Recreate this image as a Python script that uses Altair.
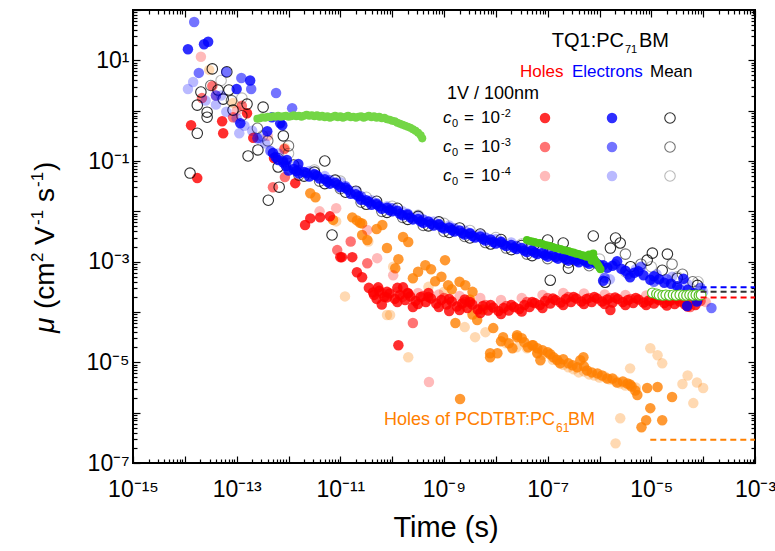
import altair as alt
import pandas as pd

FONT = "Liberation Sans"
W, H = 622, 453          # plot area
PAD_L, PAD_T = 133, 10   # plot origin inside the page

# ---------------------------------------------------------------------------
# Data: (log10 time [s], log10 mobility [cm^2 V^-1 s^-1])
# ---------------------------------------------------------------------------
ELEC_HI = [  # electrons, c0 = 1e-2
    (-13.94, 1.22), (-13.63, 1.32), (-13.55, 1.37), (-13.00, 0.43), (-12.74, 0.60),
    (-12.93, -0.25), (-12.41, -0.41), (-12.32, -0.13), (-12.16, -0.25), (-12.12, -0.29),
    (-12.03, -0.98), (-11.81, -1.06),
    (-12.30, -0.84), (-12.20, -0.98), (-12.10, -1.03), (-12.00, -1.19), (-11.90, -1.16),
    (-11.80, -1.25), (-11.70, -1.22), (-11.60, -1.31), (-11.50, -1.27), (-11.40, -1.35),
    (-11.30, -1.36), (-11.20, -1.45), (-11.10, -1.43), (-11.00, -1.52), (-10.90, -1.53),
    (-10.80, -1.65), (-10.70, -1.66), (-10.60, -1.77), (-10.50, -1.78), (-10.40, -1.87),
    (-10.30, -1.86), (-10.20, -1.95), (-10.10, -1.93), (-10.00, -2.00), (-9.90, -1.99),
    (-9.80, -2.08), (-9.70, -2.07), (-9.60, -2.16), (-9.50, -2.15), (-9.40, -2.23),
    (-9.30, -2.20), (-9.20, -2.28), (-9.10, -2.26), (-9.00, -2.34), (-8.90, -2.32),
    (-8.80, -2.40), (-8.70, -2.38), (-8.60, -2.46), (-8.50, -2.44), (-8.40, -2.52),
    (-8.30, -2.50), (-8.20, -2.58), (-8.10, -2.56), (-8.00, -2.64), (-7.90, -2.61),
    (-7.80, -2.69), (-7.70, -2.67), (-7.60, -2.75), (-7.50, -2.73), (-7.40, -2.81),
    (-7.30, -2.78), (-7.20, -2.85), (-7.10, -2.83), (-7.00, -2.90), (-6.90, -2.87),
    (-6.80, -2.94), (-6.70, -2.91), (-6.60, -2.98), (-6.50, -2.95), (-6.40, -3.01),
    (-6.30, -2.97), (-6.20, -3.04), (-6.10, -3.00), (-6.00, -3.07),
    (-12.25, -0.92), (-12.05, -1.10), (-11.85, -1.20), (-11.65, -1.24), (-11.45, -1.29),
    (-11.25, -1.41), (-11.05, -1.47), (-10.85, -1.57), (-10.65, -1.70), (-10.45, -1.81),
    (-10.25, -1.90), (-10.05, -1.98), (-9.85, -2.05), (-9.65, -2.12), (-9.45, -2.20),
    (-9.25, -2.25), (-9.05, -2.31), (-8.85, -2.37), (-8.65, -2.43), (-8.45, -2.49),
    (-8.25, -2.55), (-8.05, -2.61), (-7.85, -2.66), (-7.65, -2.72), (-7.45, -2.78),
    (-7.25, -2.82), (-7.05, -2.87), (-6.85, -2.91), (-6.65, -2.95), (-6.45, -2.98),
    (-6.25, -3.01), (-6.05, -3.04),
    (-5.93, -3.07), (-5.85, -3.12), (-5.75, -3.08), (-5.66, -2.99), (-5.58, -3.14),
    (-5.50, -3.18), (-5.41, -3.31), (-5.33, -3.22), (-5.25, -3.19), (-5.15, -3.27),
    (-5.02, -3.36), (-4.95, -3.29), (-4.85, -3.35), (-4.75, -3.42), (-4.62, -3.44),
    (-4.50, -3.49), (-4.38, -3.34), (-4.30, -3.56), (-4.18, -3.62), (-5.93, -3.38),
    (-4.31, -3.88), (-4.12, -3.79),
]
ELEC_MID = [  # electrons, c0 = 1e-3
    (-13.82, 1.76), (-13.73, 0.75), (-13.20, 0.77), (-12.91, 0.65), (-12.72, 0.43),
    (-12.24, 0.35), (-11.93, 0.05), (-13.40, 0.30),
    (-12.60, -0.55), (-12.35, -0.80), (-12.10, -1.00), (-11.80, -1.18), (-11.50, -1.26),
    (-11.20, -1.38), (-10.90, -1.50), (-10.60, -1.70), (-10.30, -1.84), (-10.00, -1.94),
    (-9.70, -2.05), (-9.40, -2.16), (-9.10, -2.25), (-8.80, -2.34), (-8.50, -2.43),
    (-8.20, -2.52), (-7.90, -2.60), (-7.60, -2.69), (-7.30, -2.77), (-7.00, -2.84),
    (-6.70, -2.90), (-6.40, -2.94), (-6.10, -3.00),
    (-5.90, -3.32), (-5.70, -3.05), (-5.45, -3.25), (-5.20, -3.10), (-4.95, -3.40),
    (-4.70, -3.35), (-4.45, -3.55), (-4.20, -3.68), (-3.84, -3.92), (-4.05, -3.52),
]
ELEC_LO = [  # electrons, c0 = 1e-4
    (-13.94, 0.43), (-13.84, 0.57), (-13.60, 0.20), (-13.40, 0.12), (-13.20, -0.02),
    (-13.00, -0.15), (-12.85, -0.30), (-12.70, -0.40), (-12.55, -0.55), (-12.45, -0.65),
    (-13.30, 0.30), (-12.95, -0.45),
    (-12.20, -0.85), (-11.90, -1.10), (-11.60, -1.20), (-11.30, -1.30), (-11.00, -1.42),
    (-10.70, -1.60), (-10.40, -1.78), (-10.10, -1.90), (-9.80, -2.00), (-9.50, -2.10),
    (-9.20, -2.20), (-8.90, -2.28), (-8.60, -2.38), (-8.30, -2.46), (-8.00, -2.55),
    (-7.70, -2.62), (-7.40, -2.72), (-7.10, -2.78), (-6.80, -2.86), (-6.50, -2.90),
    (-5.80, -3.35), (-5.30, -3.15), (-4.90, -3.25), (-4.60, -3.30), (-4.30, -3.45),
    (-4.00, -3.60),
]

MEAN_HI = [  # mean of holes and electrons, c0 = 1e-2
    (-13.76, 0.11), (-13.57, -0.03), (-13.57, -0.13), (-13.76, -0.45), (-13.69, 0.37),
    (-13.47, 0.83), (-13.36, 0.41), (-13.26, 0.23), (-12.80, 0.13), (-12.49, 0.07),
    (-12.78, -0.90), (-12.59, -0.78), (-12.20, -1.12), (-13.90, -1.24), (-12.39, -1.78),
    (-11.16, -2.47), (-12.18, -1.52), (-11.30, -1.00), (-13.15, 0.41), (-13.07, 0.01),
    (-13.19, 0.77), (-12.10, -0.50),
    (-11.90, -1.08), (-11.70, -1.30), (-11.50, -1.22), (-11.30, -1.45), (-11.10, -1.38),
    (-10.90, -1.62), (-10.70, -1.60), (-10.50, -1.86), (-10.30, -1.80), (-10.10, -2.02),
    (-9.90, -1.94), (-9.70, -2.16), (-9.50, -2.10), (-9.30, -2.29), (-9.10, -2.21),
    (-8.90, -2.42), (-8.70, -2.33), (-8.50, -2.53), (-8.30, -2.45), (-8.10, -2.65),
    (-7.90, -2.56), (-7.70, -2.76), (-7.50, -2.68), (-7.30, -2.88), (-7.10, -2.78),
    (-6.95, -3.37), (-6.60, -3.13), (-6.12, -2.49), (-5.69, -2.53), (-5.60, -2.63),
    (-5.79, -2.73), (-6.70, -2.63), (-7.00, -2.57), (-4.98, -2.83), (-4.69, -2.85),
    (-4.79, -3.17), (-5.08, -2.97), (-4.11, -3.47), (-4.50, -3.33), (-5.89, -3.41),
    (-6.30, -2.95), (-5.40, -3.10),
]
MEAN_MID = [  # c0 = 1e-3
    (-13.50, 0.50), (-13.10, 0.20), (-12.90, -0.10), (-12.60, -0.35), (-12.40, -0.60),
    (-12.00, -0.70),
    (-12.20, -0.95), (-11.80, -1.28), (-11.40, -1.40), (-11.00, -1.55), (-10.60, -1.82),
    (-10.20, -2.00), (-9.80, -2.12), (-9.40, -2.28), (-9.00, -2.40), (-8.60, -2.50),
    (-8.20, -2.62), (-7.80, -2.73), (-7.40, -2.85), (-7.00, -2.94), (-6.60, -3.02),
    (-6.20, -3.08),
    (-5.50, -2.85), (-5.20, -3.05), (-4.40, -3.25), (-4.20, -3.40), (-4.60, -3.05),
]
MEAN_LO = [  # c0 = 1e-4
    (-13.30, 0.60), (-12.90, 0.25), (-12.50, -0.50), (-12.00, -0.85), (-11.50, -1.18),
    (-11.00, -1.40), (-10.50, -1.72), (-10.00, -1.90), (-9.50, -2.08), (-9.00, -2.24),
    (-8.50, -2.38), (-8.00, -2.52), (-7.50, -2.65), (-7.00, -2.78), (-6.50, -2.88),
    (-6.00, -2.95), (-5.50, -3.20), (-5.00, -3.10), (-4.50, -3.30), (-4.10, -3.40),
]

HOLE_HI = [  # holes, c0 = 1e-2
    (-13.88, -0.29), (-13.76, -1.34), (-13.26, -0.45), (-12.68, -0.54), (-12.28, -0.94),
    (-11.87, -1.44), (-11.68, -2.27), (-11.58, -2.14), (-11.39, -2.12), (-11.20, -2.10),
    (-10.97, -2.91), (-10.77, -2.91), (-10.68, -3.21), (-10.58, -3.31), (-10.37, -3.61),
    (-10.27, -3.51), (-10.10, -3.71), (-9.79, -3.51), (-9.69, -3.63), (-11.00, -2.91),
    (-9.88, -4.66), (-13.28, -0.21), (-12.80, -0.05),
    (-10.35, -3.66), (-10.25, -3.58), (-10.15, -3.70), (-10.05, -3.63), (-9.95, -3.74),
    (-9.85, -3.66), (-9.75, -3.76), (-9.65, -3.69), (-9.55, -3.78), (-9.45, -3.70),
    (-9.35, -3.80), (-9.25, -3.73), (-9.15, -3.83), (-9.05, -3.76), (-8.95, -3.85),
    (-8.85, -3.79), (-8.75, -3.89), (-8.65, -3.83), (-8.55, -3.92), (-8.45, -3.85),
    (-8.35, -3.95), (-8.25, -3.88), (-8.15, -3.97), (-8.05, -3.91), (-7.95, -3.98),
    (-7.85, -3.92), (-7.75, -3.97), (-7.65, -3.90), (-7.55, -3.94), (-7.45, -3.86),
    (-7.35, -3.90), (-7.25, -3.82), (-7.15, -3.86), (-7.05, -3.78), (-6.95, -3.83),
    (-6.85, -3.76), (-6.75, -3.81), (-6.65, -3.74), (-6.55, -3.80), (-6.45, -3.73),
    (-6.35, -3.79), (-6.25, -3.74), (-6.15, -3.80), (-6.05, -3.73), (-5.95, -3.79),
    (-5.85, -3.75), (-5.79, -3.96), (-5.75, -3.81), (-5.65, -3.74), (-5.55, -3.80),
    (-5.45, -3.76), (-5.35, -3.82), (-5.25, -3.75), (-5.15, -3.81), (-5.05, -3.77),
    (-4.95, -3.83), (-4.85, -3.76), (-4.75, -3.82), (-4.65, -3.78), (-4.55, -3.84),
    (-4.45, -3.79), (-4.35, -3.85), (-4.25, -3.80), (-4.15, -3.86),
    (-10.45, -3.52), (-10.20, -3.85), (-9.90, -3.52), (-9.60, -3.90), (-9.30, -3.62),
    (-8.90, -3.98), (-8.60, -3.75),
    (-10.30, -3.74), (-10.10, -3.60), (-9.90, -3.80), (-9.70, -3.62), (-9.50, -3.84),
    (-9.30, -3.70), (-9.10, -3.90), (-8.90, -3.74), (-8.70, -3.96), (-8.50, -3.80),
    (-8.30, -4.02), (-8.10, -3.86), (-7.90, -4.04), (-7.70, -3.86), (-7.50, -3.99),
    (-7.30, -3.80), (-7.10, -3.92), (-6.90, -3.73), (-6.70, -3.86), (-6.50, -3.70),
    (-6.30, -3.84), (-6.10, -3.70), (-5.90, -3.84), (-5.70, -3.71), (-5.50, -3.86),
    (-5.30, -3.72), (-5.10, -3.86), (-4.90, -3.73), (-4.70, -3.87), (-4.50, -3.74),
    (-4.30, -3.89), (-4.10, -3.76),
]
HOLE_MID = [  # c0 = 1e-3
    (-13.67, 0.25), (-13.47, 0.49), (-13.07, -0.13), (-12.08, -0.76), (-12.30, -1.52),
    (-12.07, -1.32), (-11.06, -2.77), (-10.48, -3.03), (-9.60, -4.22), (-12.90, 0.10),
    (-10.80, -2.60),
    (-10.20, -3.62), (-9.80, -3.70), (-9.40, -3.68), (-9.00, -3.72), (-8.60, -3.80),
    (-8.20, -3.86), (-7.80, -3.88), (-7.40, -3.80), (-7.00, -3.72), (-6.60, -3.70),
    (-6.20, -3.72), (-5.80, -3.72), (-5.40, -3.74), (-5.00, -3.75), (-4.60, -3.76),
    (-4.25, -3.90), (-4.05, -3.78),
]
HOLE_LO = [  # c0 = 1e-4
    (-13.69, 1.07), (-13.40, 0.30), (-13.00, 0.00), (-12.40, -0.50), (-11.40, -2.00),
    (-11.08, -1.94), (-10.48, -2.37), (-10.29, -2.93), (-9.98, -3.27), (-9.29, -5.39),
    (-10.30, -3.55), (-9.90, -3.60), (-9.50, -3.62), (-9.10, -3.65), (-8.70, -3.68),
    (-8.30, -3.72), (-7.90, -3.76), (-7.50, -3.72), (-7.10, -3.66), (-6.70, -3.62),
    (-6.30, -3.63), (-5.90, -3.65), (-5.50, -3.66), (-5.10, -3.67), (-4.70, -3.68),
    (-4.30, -3.75), (-3.95, -3.80),
]

PCDTBT_HI = [  # holes of PCDTBT:PC61BM, dark
    (-11.58, -1.64), (-11.48, -1.72), (-10.77, -2.12), (-10.68, -2.18), (-10.58, -2.24),
    (-10.19, -2.27), (-10.58, -2.47), (-10.48, -2.57), (-10.10, -2.73), (-9.79, -2.51),
    (-9.69, -2.61), (-9.88, -2.95), (-9.60, -3.33), (-11.14, -2.17), (-10.62, -2.23),
    (-9.36, -3.07), (-8.98, -2.97), (-9.17, -3.39), (-8.59, -3.47), (-8.92, -3.47),
    (-9.94, -3.13), (-8.78, -4.22), (-8.36, -4.16), (-8.05, -4.32), (-7.86, -4.50),
    (-7.59, -4.50), (-7.28, -4.66), (-7.20, -4.82), (-8.11, -4.82), (-8.11, -4.90),
    (-7.97, -4.82), (-7.59, -4.46), (-7.50, -4.52), (-7.30, -4.66), (-7.20, -4.72),
    (-7.00, -4.80), (-6.89, -4.90), (-6.76, -5.02), (-6.60, -5.02), (-6.37, -4.96),
    (-6.43, -5.10), (-6.24, -5.16), (-6.04, -5.22), (-5.85, -5.32), (-5.66, -5.40),
    (-5.46, -5.42), (-5.31, -5.56), (-6.31, -4.90), (-7.68, -4.72), (-7.14, -4.96),
    (-5.41, -5.44), (-5.27, -5.65), (-5.08, -5.51), (-4.88, -5.49), (-5.02, -5.91),
    (-5.10, -6.15), (-5.19, -6.29), (-4.79, -6.15), (-4.60, -5.69), (-8.69, -5.73),
    (-7.90, -4.58), (-7.75, -4.62), (-7.45, -4.60), (-7.38, -4.70), (-7.10, -4.76),
    (-6.95, -4.84), (-6.82, -4.95), (-6.70, -4.94), (-6.52, -5.06), (-6.30, -5.08),
    (-6.15, -5.20), (-5.95, -5.26), (-5.75, -5.32), (-5.55, -5.38), (-5.38, -5.48),
    (-10.30, -2.35), (-9.50, -3.20), (-9.25, -3.15), (-9.05, -3.30), (-8.85, -3.55),
    (-8.70, -3.40), (-8.45, -3.60), (-8.50, -3.75), (-8.25, -3.95), (-8.45, -4.05),
]
PCDTBT_LO = [  # holes of PCDTBT:PC61BM, light
    (-13.53, 0.81), (-13.07, 0.15), (-12.07, -0.74), (-10.91, -3.69), (-11.08, -2.20),
    (-10.46, -2.60), (-9.98, -3.10), (-10.10, -4.06), (-9.69, -4.90), (-8.40, -4.50),
    (-10.04, -4.06), (-8.63, -3.90), (-8.30, -3.95),
    (-7.80, -4.62), (-7.40, -4.72), (-7.10, -4.85), (-6.80, -4.98), (-6.60, -5.10),
    (-6.50, -5.14), (-6.30, -5.18), (-6.10, -5.26), (-5.90, -5.28), (-5.70, -5.36),
    (-5.50, -5.46), (-5.30, -5.50),
    (-7.60, -4.70), (-7.20, -4.80), (-6.90, -4.95), (-6.70, -5.05), (-6.40, -5.20),
    (-6.20, -5.24), (-6.00, -5.30), (-5.80, -5.34), (-5.60, -5.42), (-8.20, -4.40),
    (-8.60, -4.30), (-9.00, -3.60), (-9.30, -3.50),
    (-5.02, -4.72), (-4.88, -4.86), (-4.79, -5.02), (-5.41, -5.12), (-4.30, -5.26),
    (-4.40, -5.43), (-4.12, -5.40), (-4.00, -5.51), (-4.19, -5.81), (-5.60, -6.11),
    (-5.69, -6.61),
]

GREEN_EARLY = [
    (-12.60, -0.16), (-12.55, -0.15), (-12.50, -0.13), (-12.45, -0.14), (-12.40, -0.12),
    (-12.35, -0.13), (-12.30, -0.11), (-12.25, -0.12), (-12.20, -0.10), (-12.15, -0.12),
    (-12.10, -0.11), (-12.05, -0.10), (-12.00, -0.12), (-11.95, -0.11), (-11.90, -0.09),
    (-11.85, -0.11), (-11.80, -0.10), (-11.75, -0.12), (-11.70, -0.10), (-11.65, -0.08),
    (-11.60, -0.10), (-11.55, -0.09), (-11.50, -0.11), (-11.45, -0.09), (-11.40, -0.12),
    (-11.35, -0.10), (-11.30, -0.13), (-11.25, -0.11), (-11.20, -0.14), (-11.15, -0.12),
    (-11.10, -0.10), (-11.05, -0.13), (-11.00, -0.11), (-10.95, -0.14), (-10.90, -0.12),
    (-10.85, -0.10), (-10.80, -0.13), (-10.75, -0.12), (-10.70, -0.14), (-10.65, -0.12),
    (-10.60, -0.11), (-10.55, -0.14), (-10.50, -0.12), (-10.45, -0.10), (-10.40, -0.13),
    (-10.35, -0.11), (-10.30, -0.14), (-10.25, -0.12), (-10.20, -0.15), (-10.15, -0.14),
    (-10.10, -0.17), (-10.05, -0.18), (-10.00, -0.20), (-9.95, -0.21), (-9.90, -0.24),
    (-9.85, -0.26), (-9.80, -0.28), (-9.75, -0.30), (-9.70, -0.32), (-9.65, -0.34),
    (-9.60, -0.37), (-9.55, -0.40), (-9.50, -0.44), (-9.45, -0.49), (-9.42, -0.55),
]
GREEN_LATE = [
    (-7.40, -2.57), (-7.35, -2.59), (-7.30, -2.60), (-7.25, -2.61), (-7.20, -2.63),
    (-7.15, -2.63), (-7.10, -2.65), (-7.05, -2.67), (-7.00, -2.68), (-6.95, -2.69),
    (-6.90, -2.71), (-6.85, -2.73), (-6.80, -2.74), (-6.75, -2.75), (-6.70, -2.77),
    (-6.65, -2.78), (-6.60, -2.79), (-6.55, -2.81), (-6.50, -2.82), (-6.45, -2.84),
    (-6.40, -2.85), (-6.35, -2.87), (-6.30, -2.88), (-6.25, -2.90), (-6.20, -2.86),
    (-6.17, -2.93), (-6.15, -2.98), (-6.12, -2.84), (-6.10, -2.95), (-6.07, -3.00),
    (-6.05, -3.03), (-6.02, -3.08), (-6.00, -3.12), (-5.98, -3.15),
]
GREEN_RINGS = [
    (-4.98, -3.62), (-4.90, -3.64), (-4.85, -3.66), (-4.78, -3.67), (-4.72, -3.66),
    (-4.65, -3.67), (-4.58, -3.66), (-4.52, -3.67), (-4.45, -3.66), (-4.38, -3.67),
    (-4.32, -3.67), (-4.26, -3.66), (-4.20, -3.67), (-4.14, -3.66), (-4.08, -3.67),
    (-4.04, -3.66),
]

# long-time plateaus: (log10 start time, log10 mobility, colour)
PLATEAUS = [
    (-4.05, -3.51, "#0000ff"),
    (-4.05, -3.60, "#333333"),
    (-4.05, -3.71, "#ff0000"),
    (-5.02, -6.54, "#ff8000"),
]

X_TICK_VALUES = [1e-15, 1e-13, 1e-11, 1e-9, 1e-7, 1e-5, 1e-3]
X_TICK_TEXT = ["10⁻¹⁵", "10⁻¹³", "10⁻¹¹", "10⁻⁹", "10⁻⁷", "10⁻⁵", "10⁻³"]
Y_TICK_VALUES = [1e-7, 1e-5, 1e-3, 1e-1, 1e1]
Y_TICK_TEXT = ["10⁻⁷", "10⁻⁵", "10⁻³", "10⁻¹", "10¹"]

RED, BLUE, ORANGE = "#ff0000", "#0000ff", "#ff8000"
A_HI, A_MID, A_LO = 0.82, 0.55, 0.27
DOT = 110

# ---------------------------------------------------------------------------
XS = alt.Scale(type="log", domain=[1e-15, 1e-3], nice=False)
YS = alt.Scale(type="log", domain=[1e-7, 1e2], nice=False)


def table(pairs):
    return pd.DataFrame({"t": [10.0 ** a for a, _ in pairs],
                         "mu": [10.0 ** b for _, b in pairs]})


def xy():
    return dict(x=alt.X("t:Q", scale=XS, axis=None),
                y=alt.Y("mu:Q", scale=YS, axis=None))


def dots(pairs, color, alpha, size=DOT):
    return alt.Chart(table(pairs)).mark_circle(
        size=size, color=color, opacity=alpha).encode(**xy())


def rings(pairs, alpha, size=DOT):
    return alt.Chart(table(pairs)).mark_point(
        shape="circle", size=size, color="black", opacity=alpha,
        strokeWidth=1.1, filled=False).encode(**xy())


plateau_df = pd.DataFrame({
    "t0": [10.0 ** p[0] for p in PLATEAUS],
    "t1": [1e-3] * len(PLATEAUS),
    "mu": [10.0 ** p[1] for p in PLATEAUS],
    "c": [p[2] for p in PLATEAUS],
})
plateaus = alt.Chart(plateau_df).mark_rule(strokeDash=[6, 4], strokeWidth=2).encode(
    x=alt.X("t0:Q", scale=XS, axis=None), x2="t1:Q",
    y=alt.Y("mu:Q", scale=YS, axis=None),
    color=alt.Color("c:N", scale=None))

green_rings = alt.Chart(table(GREEN_RINGS)).mark_point(
    shape="circle", size=95, filled=True, fill="white", stroke="#58c024",
    strokeWidth=1.2, opacity=1).encode(**xy())

# ---------------------------------------------------------------------------
# text annotations (page coordinates)
one = pd.DataFrame({"k": [0]})


def note(text, px, py, size, color="black", align="left", style="normal",
         angle=0, baseline="alphabetic"):
    return alt.Chart(one).mark_text(
        align=align, baseline=baseline, font=FONT, fontSize=size, color=color,
        fontStyle=style, angle=angle).encode(
        x=alt.value(px - PAD_L), y=alt.value(py - PAD_T), text=alt.value(text))


def key_dot(px, py, color, alpha, ring=False):
    base = alt.Chart(one)
    if ring:
        m = base.mark_point(shape="circle", size=DOT, color="black", opacity=alpha,
                            strokeWidth=1.1, filled=False)
    else:
        m = base.mark_circle(size=DOT, color=color, opacity=alpha)
    return m.encode(x=alt.value(px - PAD_L), y=alt.value(py - PAD_T))


# y-axis title pieces, rotated: text runs upward, superscripts sit to the left
YT_X, YT_SUP_X = 46, 38


def ytitle(text, py, sup=False, style="normal"):
    return note(text, YT_SUP_X if sup else YT_X, py, 17 if sup else 28,
                style=style, angle=270, baseline="middle")


notes = [
    note("TQ1:PC", 624, 47, 20, align="right"),
    note("71", 625, 53, 11),
    note("BM", 639, 47, 20),
    note("Holes", 520, 77, 17, color=RED),
    note("Electrons", 572, 77, 17, color=BLUE),
    note("Mean", 650, 77, 17),
    note("1V / 100nm", 447, 99, 18),
    note("Holes of PCDTBT:PC", 555, 425, 18, color=ORANGE, align="right"),
    note("61", 556, 432, 12, color=ORANGE),
    note("BM", 568, 425, 18, color=ORANGE),
    note("Time (s)", 446, 537, 29, align="center"),
    ytitle("μ", 333, style="italic"),
    ytitle("(cm", 309),
    ytitle("2", 262, sup=True),
    ytitle("V", 245),
    ytitle("-1", 225, sup=True),
    ytitle("s", 202),
    ytitle("-1", 187, sup=True),
    ytitle(")", 171),
]
for base_y, exp_text, alpha in [(123, "-2", A_HI), (152, "-3", A_MID), (181, "-4", A_LO)]:
    notes += [
        note("c", 443, base_y, 17, style="italic"),
        note("0", 452, base_y + 4, 11),
        note("=", 469, base_y, 17, align="center"),
        note("10", 500, base_y, 17, align="right"),
        note(exp_text, 501, base_y - 6, 11),
        key_dot(545, base_y - 5, RED, alpha),
        key_dot(612, base_y - 5, BLUE, alpha),
        key_dot(670, base_y - 5, None, alpha, ring=True),
    ]

# ---------------------------------------------------------------------------
# axes: labels outside, ticks (major + minor) pointing into the frame on all sides
DEC_X = [10.0 ** k for k in range(-15, -2)]
DEC_Y = [10.0 ** k for k in range(-7, 3)]
MIN_X = [m * 10.0 ** k for k in range(-15, -3) for m in range(2, 10)]
MIN_Y = [m * 10.0 ** k for k in range(-7, 2) for m in range(2, 10)]


def label_expr(values, texts):
    expr = f"'{texts[-1]}'"
    for v, t in zip(reversed(values[:-1]), reversed(texts[:-1])):
        expr = f"datum.value < {v * 3:.3g} ? '{t}' : ({expr})"
    return expr


def tick_axis(orient, offset, values, size):
    return alt.Axis(orient=orient, offset=offset, values=values, tickSize=size,
                    tickWidth=1.2, tickColor="black", labels=False, domain=False,
                    grid=False, title="")


x_labels = alt.Axis(orient="bottom", values=X_TICK_VALUES,
                    labelExpr=label_expr(X_TICK_VALUES, X_TICK_TEXT),
                    ticks=False, domain=False, grid=False, labelFont=FONT,
                    labelFontSize=23, labelColor="black", labelPadding=15,
                    labelFlush=False, labelOverlap=False, title="")
y_labels = alt.Axis(orient="left", values=Y_TICK_VALUES,
                    labelExpr=label_expr(Y_TICK_VALUES, Y_TICK_TEXT),
                    ticks=False, domain=False, grid=False, labelFont=FONT,
                    labelFontSize=23, labelColor="black", labelPadding=4,
                    labelFlush=False, labelOverlap=False, title="")

anchor = pd.DataFrame({"t": [1e-9], "mu": [1e-3]})


def guide(xaxis, yaxis):
    return alt.Chart(anchor).mark_point(opacity=0).encode(
        x=alt.X("t:Q", scale=XS, axis=xaxis),
        y=alt.Y("mu:Q", scale=YS, axis=yaxis))


guides = [
    guide(x_labels, y_labels),
    guide(tick_axis("top", -H, DEC_X, 7), tick_axis("right", -W, DEC_Y, 7)),
    guide(tick_axis("top", -H, MIN_X, 4), tick_axis("right", -W, MIN_Y, 4)),
    guide(tick_axis("bottom", -H, DEC_X, 7), tick_axis("left", -W, DEC_Y, 7)),
    guide(tick_axis("bottom", -H, MIN_X, 4), tick_axis("left", -W, MIN_Y, 4)),
]

layers = [
    dots(PCDTBT_LO, ORANGE, 0.3),
    dots(PCDTBT_HI, ORANGE, 0.8),
    dots(HOLE_LO, RED, A_LO),
    dots(HOLE_MID, RED, A_MID),
    dots(HOLE_HI, RED, A_HI),
    rings(MEAN_LO, A_LO),
    rings(MEAN_MID, A_MID),
    rings(MEAN_HI, A_HI),
    dots(ELEC_LO, BLUE, A_LO),
    dots(ELEC_MID, BLUE, A_MID),
    dots(ELEC_HI, BLUE, A_HI),
    dots(GREEN_EARLY, "#74d646", 1.0, size=65),
    dots(GREEN_LATE, "#4fc81c", 1.0, size=65),
    green_rings,
    plateaus,
] + notes + guides

chart = alt.layer(*layers).resolve_axis(
    x="independent", y="independent"
).properties(
    width=W, height=H,
    autosize=alt.AutoSizeParams(type="none"),
    padding={"left": PAD_L, "top": PAD_T, "right": 775 - PAD_L - W, "bottom": 551 - PAD_T - H},
    background="white",
).configure_view(stroke="black", strokeWidth=2)

chart.save("out.html", embed_options={"renderer": "svg", "actions": False})
